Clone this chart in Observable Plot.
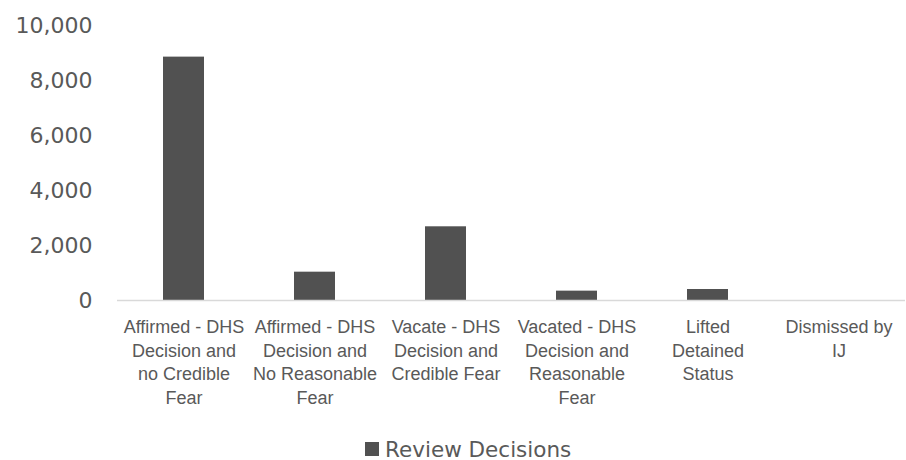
<!DOCTYPE html>
<html>
<head>
<meta charset="utf-8">
<script src="https://cdn.jsdelivr.net/npm/d3@7"></script>
<script src="https://cdn.jsdelivr.net/npm/@observablehq/plot@0.6"></script>
<style>
  html, body { margin: 0; padding: 0; background: #fff; }
  #wrap { position: relative; width: 906px; height: 460px; }
  #legend { position: absolute; left: 365px; top: 440px; display: flex; align-items: center; height: 18px;
    font-family: "DejaVu Sans", sans-serif; font-size: 21.5px; color: #595959; }
  #legend .sw { width: 14px; height: 14px; background: #515151; margin-right: 6px; }
</style>
</head>
<body>
<div id="wrap"></div>
<script>
const categories = ["Affirmed - DHS Decision and no Credible Fear", "Affirmed - DHS Decision and No Reasonable Fear", "Vacate - DHS Decision and Credible Fear", "Vacated - DHS Decision and Reasonable Fear", "Lifted Detained Status", "Dismissed by IJ"];
const tickLabels = ["Affirmed - DHS\nDecision and\nno Credible\nFear", "Affirmed - DHS\nDecision and\nNo Reasonable\nFear", "Vacate - DHS\nDecision and\nCredible Fear", "Vacated - DHS\nDecision and\nReasonable\nFear", "Lifted\nDetained\nStatus", "Dismissed by\nIJ"];
const values = [8850, 1030, 2680, 340, 400, 0];
const yTicks = [0, 2000, 4000, 6000, 8000, 10000];
const seriesName = "Review Decisions";

const data = categories.map((c, i) => ({category: c, value: values[i]}));
const labelOf = new Map(categories.map((c, i) => [c, tickLabels[i]]));

const chart = Plot.plot({
  width: 906,
  height: 430,
  marginLeft: 117,
  marginRight: 1,
  marginTop: 25,
  marginBottom: 130,
  style: {background: "#fff", color: "#595959"},
  x: {domain: categories, paddingInner: 0.69, paddingOuter: 0.345},
  y: {domain: [0, 10000]},
  marks: [
    Plot.barY(data, {x: "category", y: "value", fill: "#515151"}),
    Plot.ruleY([0], {stroke: "#d9d9d9", strokeWidth: 1.5}),
    Plot.axisY({ticks: yTicks, tickFormat: d3.format(","), tickSize: 0, tickPadding: 25,
      fontSize: 22, fontFamily: "DejaVu Sans", label: null, fill: "#595959"}),
    Plot.axisX({tickFormat: d => labelOf.get(d), tickSize: 0, tickPadding: 16, fontSize: 18,
      fontFamily: "Liberation Sans", lineHeight: 1.31, label: null, fill: "#595959"})
  ]
});
const wrap = document.getElementById("wrap");
wrap.appendChild(chart);
const legend = document.createElement("div");
legend.id = "legend";
legend.innerHTML = '<div class="sw"></div><span></span>';
legend.querySelector("span").textContent = seriesName;
wrap.appendChild(legend);
</script>
</body>
</html>
